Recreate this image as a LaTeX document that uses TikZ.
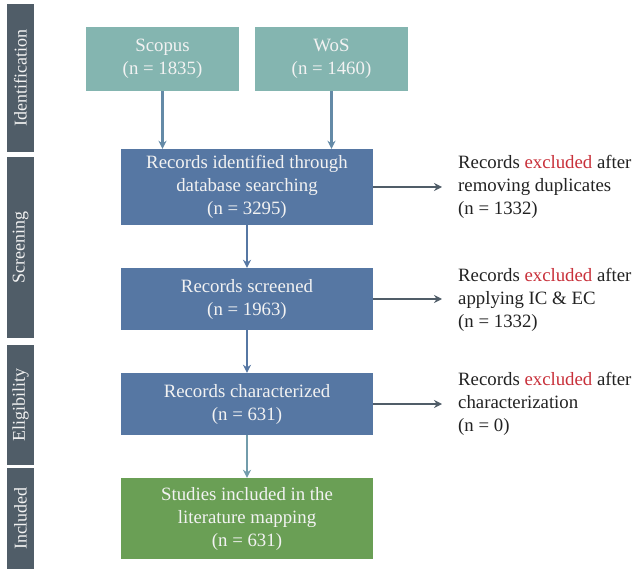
\documentclass[tikz,border=0pt]{standalone}
\usepackage{fontspec}
\setmainfont{Liberation Serif}
\usetikzlibrary{arrows.meta}
\definecolor{tealbox}{HTML}{84B5B0}
\definecolor{bluebox}{HTML}{5677A3}
\definecolor{greenbox}{HTML}{6A9F55}
\definecolor{sidebar}{HTML}{505D68}
\definecolor{exred}{HTML}{C8303A}
\definecolor{boxtext}{HTML}{F2F2F2}
\definecolor{txt}{HTML}{222222}
\tikzset{
  box/.style={draw=none, text=boxtext, align=center, font=\fontsize{18.8}{23}\selectfont, inner sep=0pt},
  srcbox/.style={box, fill=tealbox, minimum width=153pt, minimum height=64pt},
  mainbox/.style={box, fill=bluebox, minimum width=252pt},
  incbox/.style={box, fill=greenbox, minimum width=252pt},
  phase/.style={fill=sidebar, text=boxtext, minimum height=27pt, rotate=90, inner sep=0pt, font=\fontsize{18}{20}\selectfont},
  note/.style={anchor=west, align=left, text=txt, font=\fontsize{18.8}{23}\selectfont, inner sep=0pt},
  flow/.style={line width=2.4pt, -{Stealth[length=8pt,width=8pt]}},
  side/.style={line width=2.4pt, draw=sidebar, -{Stealth[length=8pt,width=8pt]}}
}
\newcommand{\excl}{\textcolor{exred}{excluded}}
\begin{document}
\begin{tikzpicture}[x=1pt,y=-1pt]
\useasboundingbox (0,0) rectangle (634,569);
% phase bars
\node[phase, minimum width=148pt] (pid) at (20.5,78) {Identification};
\node[phase, minimum width=181pt] (psc) at (20.5,247.5) {Screening};
\node[phase, minimum width=120pt] (pel) at (20.5,405) {Eligibility};
\node[phase, minimum width=101pt] (pin) at (20.5,518.5) {Included};
% boxes
\node[srcbox] (scopus) at (162.5,59) {Scopus\\(n = 1835)};
\node[srcbox] (wos) at (331.5,59) {WoS\\(n = 1460)};
\node[mainbox, minimum height=76pt] (ident) at (247,187) {Records identified through\\database searching\\(n = 3295)};
\node[mainbox, minimum height=62pt] (screen) at (247,299) {Records screened\\(n = 1963)};
\node[mainbox, minimum height=62pt] (charac) at (247,404) {Records characterized\\(n = 631)};
\node[incbox, minimum height=81pt] (incl) at (247,518.5) {Studies included in the\\literature mapping\\(n = 631)};
% notes
\node[note] (n1) at (458,187) {Records \excl{} after\\removing duplicates\\(n = 1332)};
\node[note] (n2) at (458,300) {Records \excl{} after\\applying IC \& EC\\(n = 1332)};
\node[note] (n3) at (458,404) {Records \excl{} after\\characterization\\(n = 0)};
% arrows
\draw[flow, draw=bluebox!70!tealbox] (scopus.south) -- (scopus.south |- ident.north);
\draw[flow, draw=bluebox!70!tealbox] (wos.south) -- (wos.south |- ident.north);
\draw[flow, draw=bluebox] (ident) -- (screen);
\draw[flow, draw=bluebox] (screen) -- (charac);
\draw[flow, draw=bluebox!40!tealbox] (charac) -- (incl);
\draw[side] (ident.east) -- ([xshift=-16pt]n1.west);
\draw[side] (screen.east) -- ([xshift=-16pt]n2.west |- screen.east);
\draw[side] (charac.east) -- ([xshift=-16pt]n3.west);
\end{tikzpicture}
\end{document}
